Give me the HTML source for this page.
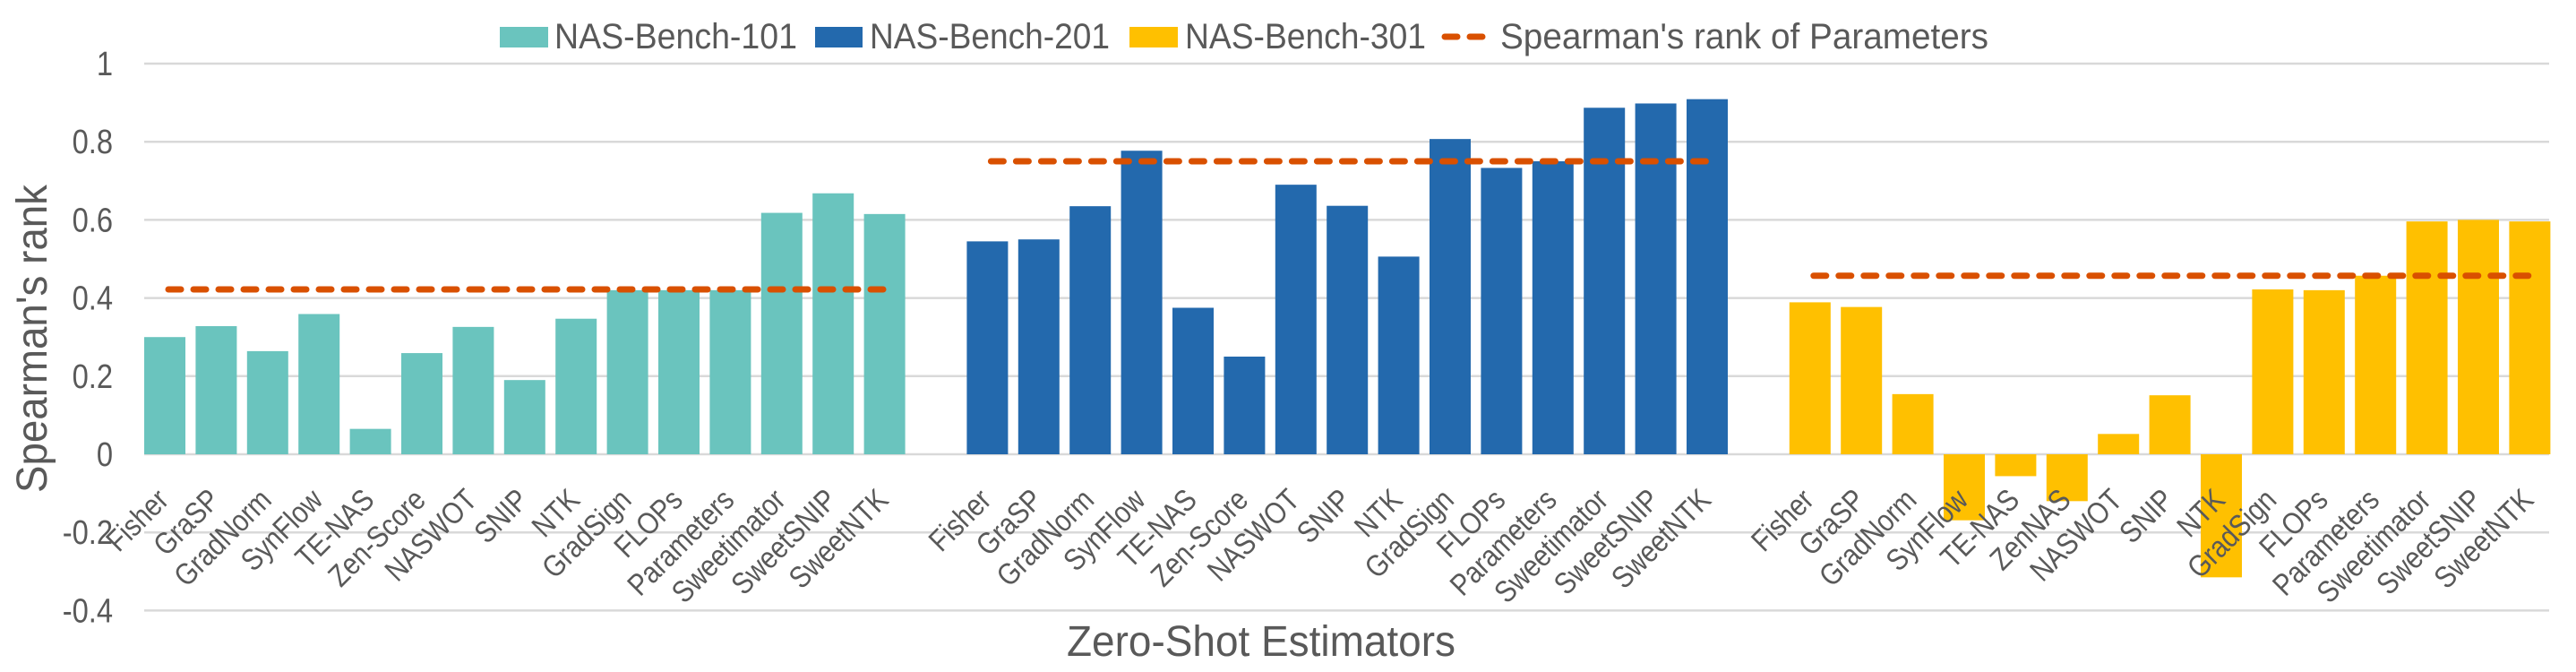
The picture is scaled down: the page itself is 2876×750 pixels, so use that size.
<!DOCTYPE html>
<html><head><meta charset="utf-8"><style>
html,body{margin:0;padding:0;background:#fff;}
svg{display:block;font-family:"Liberation Sans",sans-serif;}
</style></head><body>
<svg id="chart" width="2876" height="750" viewBox="0 0 2876 750" xmlns="http://www.w3.org/2000/svg">
<g id="grid"></g>
<g id="yticks"></g>
<g id="bars"></g>
<g id="refs"></g>
<g id="xlabels"></g>
<text transform="translate(52,378) rotate(-90)" text-anchor="middle" font-size="48" fill="#595959" textLength="344" lengthAdjust="spacingAndGlyphs">Spearman's rank</text>
<text x="1408" y="732" text-anchor="middle" font-size="48" fill="#595959" textLength="434" lengthAdjust="spacingAndGlyphs">Zero-Shot Estimators</text>
<g>
  <g>
    <rect x="558" y="30" width="54" height="23" fill="#6AC4BE"/>
    <text x="619" y="54" font-size="40" fill="#595959" textLength="271" lengthAdjust="spacingAndGlyphs">NAS-Bench-101</text>
  </g>
  <g>
    <rect x="910" y="30" width="53" height="23" fill="#2369AD"/>
    <text x="971" y="54" font-size="40" fill="#595959" textLength="268" lengthAdjust="spacingAndGlyphs">NAS-Bench-201</text>
  </g>
  <g>
    <rect x="1261" y="30" width="54" height="23" fill="#FFC000"/>
    <text x="1323" y="54" font-size="40" fill="#595959" textLength="269" lengthAdjust="spacingAndGlyphs">NAS-Bench-301</text>
  </g>
  <g>
    <line x1="1613" y1="41" x2="1655" y2="41" stroke="#D95000" stroke-width="7" stroke-linecap="round" stroke-dasharray="14,14"/>
    <text x="1675" y="54" font-size="40" fill="#595959" textLength="545" lengthAdjust="spacingAndGlyphs">Spearman's rank of Parameters</text>
  </g>
</g>
</svg>
<script>
const ticks = [1, 0.8, 0.6, 0.4, 0.2, 0, -0.2, -0.4];
const tickLabels = ["1", "0.8", "0.6", "0.4", "0.2", "0", "-0.2", "-0.4"];
const estimators101 = ["Fisher","GraSP","GradNorm","SynFlow","TE-NAS","Zen-Score","NASWOT","SNIP","NTK","GradSign","FLOPs","Parameters","Sweetimator","SweetSNIP","SweetNTK"];
const estimators201 = ["Fisher","GraSP","GradNorm","SynFlow","TE-NAS","Zen-Score","NASWOT","SNIP","NTK","GradSign","FLOPs","Parameters","Sweetimator","SweetSNIP","SweetNTK"];
const estimators301 = ["Fisher","GraSP","GradNorm","SynFlow","TE-NAS","ZenNAS","NASWOT","SNIP","NTK","GradSign","FLOPs","Parameters","Sweetimator","SweetSNIP","SweetNTK"];
const values101 = [0.30,0.328,0.264,0.359,0.065,0.259,0.326,0.19,0.347,0.42,0.42,0.42,0.618,0.668,0.615];
const values201 = [0.545,0.55,0.635,0.777,0.375,0.25,0.69,0.636,0.506,0.807,0.733,0.75,0.887,0.898,0.909];
const values301 = [0.389,0.377,0.154,-0.169,-0.056,-0.12,0.052,0.151,-0.315,0.422,0.42,0.457,0.596,0.60,0.596];
const paramRank = [0.422, 0.75, 0.457];

const NS="http://www.w3.org/2000/svg";
const y0px=507, unitPx=436, xLeft=161, pitch=57.4, barW=46, gridRight=2846;
function yScale(v){return y0px - v*unitPx;}
function xScale(slot){return xLeft + slot*pitch;}
function mk(tag, attrs, parent){const e=document.createElementNS(NS,tag);for(const k in attrs)e.setAttribute(k,attrs[k]);parent.appendChild(e);return e;}

const grid=document.getElementById('grid'), yt=document.getElementById('yticks');
ticks.forEach((t,i)=>{
  const l=mk('line',{x1:xLeft,x2:gridRight,y1:yScale(t),y2:yScale(t),stroke:'#D9D9D9','stroke-width':2.5},grid);
  
  
  const tx=mk('text',{x:0,y:0,'text-anchor':'end','font-size':38,fill:'#595959',transform:'translate(126,'+(yScale(t)+13)+') scale(0.86,1)'},yt);
  
  
  tx.textContent=tickLabels[i];
});

const groups=[
  {names:estimators101, vals:values101, color:'#6AC4BE', start:0, key:'nb101'},
  {names:estimators201, vals:values201, color:'#2369AD', start:16, key:'nb201'},
  {names:estimators301, vals:values301, color:'#FFC000', start:32, key:'nb301'}
];
const bars=document.getElementById('bars'), refs=document.getElementById('refs'), xl=document.getElementById('xlabels');
groups.forEach((g,gi)=>{
  g.vals.forEach((v,i)=>{
    const x=xScale(g.start+i);
    const top=Math.min(yScale(v),y0px), h=Math.abs(yScale(v)-y0px);
    const r=mk('rect',{x:x,y:top,width:barW,height:h,fill:g.color},bars);
    
    
    const cx=x+barW/2+6, cy=560;
    const t=mk('text',{x:0,y:0,'text-anchor':'end','font-size':34,fill:'#595959',transform:'translate('+cx+','+cy+') rotate(-45) scale(0.86,1)'},xl);
    
    
    t.textContent=g.names[i];
  });
  const x1=xScale(g.start)+barW/2, x2=xScale(g.start+g.vals.length-1)+barW/2;
  const ln=mk('line',{x1:x1+4,x2:x2,y1:yScale(paramRank[gi]),y2:yScale(paramRank[gi]),stroke:'#D95000','stroke-width':7,'stroke-linecap':'round','stroke-dasharray':'14,14'},refs);
  
  
});
</script>
</body></html>
